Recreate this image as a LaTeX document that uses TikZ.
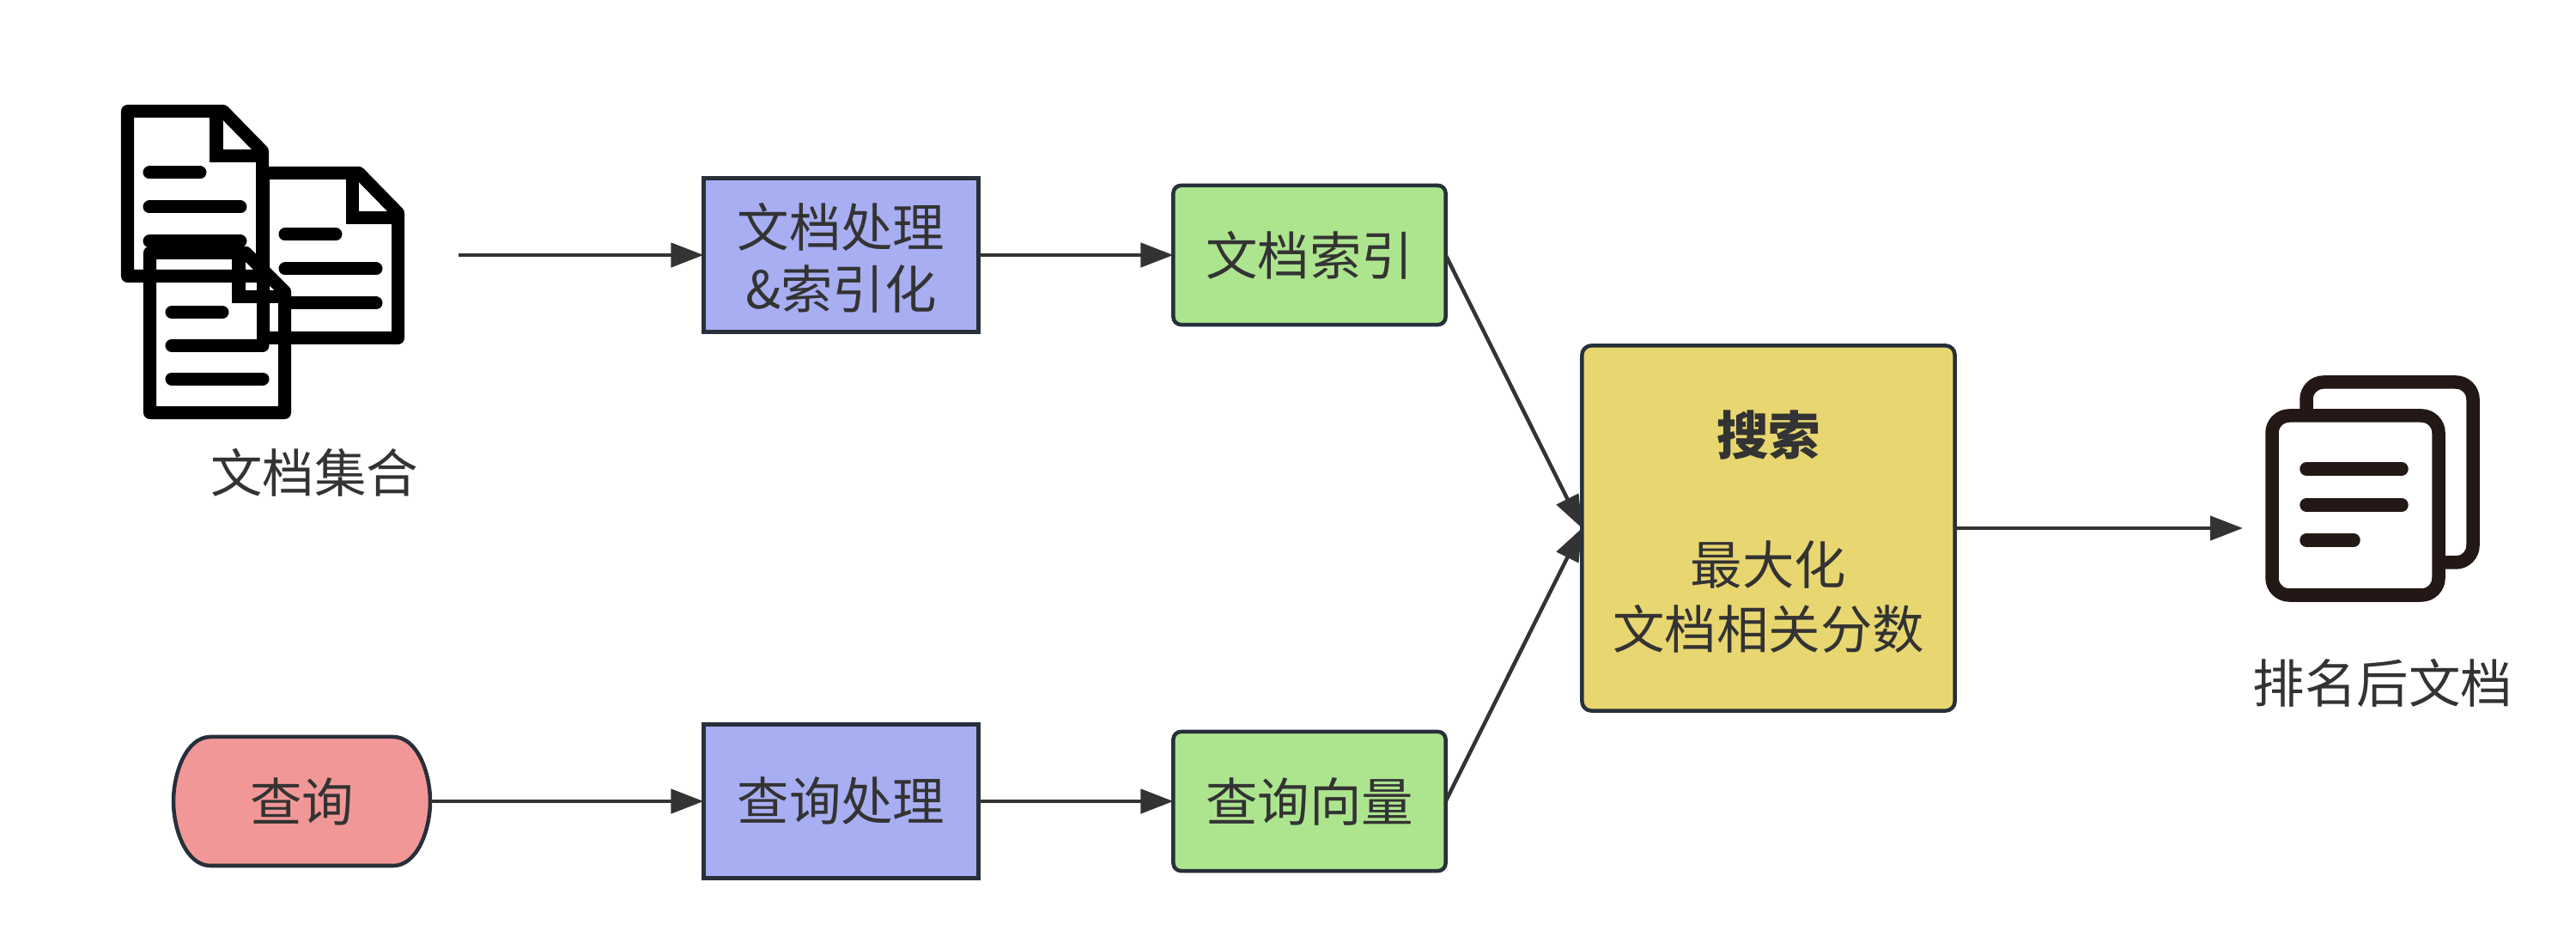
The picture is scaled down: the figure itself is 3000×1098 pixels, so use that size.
\documentclass[tikz,border=0pt]{standalone}
\usepackage{fontspec}
\setmainfont{Noto Sans CJK SC}
\usetikzlibrary{arrows.meta}
\definecolor{txt}{HTML}{333333}
\definecolor{edge}{HTML}{27303A}
\definecolor{bluefill}{HTML}{A7AEF2}
\definecolor{greenfill}{HTML}{ADE58F}
\definecolor{yellowfill}{HTML}{E8D670}
\definecolor{pinkfill}{HTML}{F29797}
\definecolor{iconbrown}{HTML}{231815}
\tikzset{
  x=0.01cm,y=-0.01cm,
  label text/.style={font=\fontsize{17.2}{21.3}\selectfont,text=txt,align=center,inner sep=0pt,outer sep=0pt},
  boxbase/.style={label text,draw=edge,line width=0.045cm},
  procbox/.style={boxbase,fill=bluefill,minimum width=3.2cm,minimum height=1.79cm},
  indexbox/.style={boxbase,fill=greenfill,rounded corners=0.09cm,minimum width=3.17cm,minimum height=1.62cm},
  searchbox/.style={boxbase,fill=yellowfill,rounded corners=0.11cm,minimum width=4.34cm,minimum height=4.25cm},
  conn/.style={draw=txt,line width=0.045cm,-{Triangle[length=0.38cm,width=0.28cm]}},
  docstroke/.style={draw=black,line width=0.15cm,line join=round,line cap=round},
  stackstroke/.style={draw=iconbrown,line width=0.155cm,rounded corners=0.2cm},
  stackline/.style={draw=iconbrown,line width=0.155cm,line cap=round},
  docicon/.pic={
    \draw[docstroke] (7.5,7.5) -- (119,7.5) -- (164.5,54) -- (164.5,199.5) -- (7.5,199.5) -- cycle;
    \draw[docstroke,line cap=butt,line join=miter] (111,7.5) -- (111,60) -- (164.5,60);
    \draw[docstroke] (33,79) -- (92,79);
    \draw[docstroke] (33,119) -- (139,119);
    \draw[docstroke] (33,159) -- (139,159);
  }
}
\begin{document}
\begin{tikzpicture}
\useasboundingbox[fill=white] (0,0) rectangle (3000,1098);
% document collection icon
\pic at (141,122) {docicon};
\pic at (299,194) {docicon};
\pic[yscale=0.97] at (167,287) {docicon};
\node[label text] (doclabel) at (366,550) {文档集合};
\coordinate (docsout) at (534,297);
% boxes
\node[procbox,font=\fontsize{17.2}{20.3}\selectfont] (docproc) at (979.5,297) {\rule{0pt}{16.5pt}文档处理\\\&索引化};
\node[indexbox] (docindex) at (1525,297) {文档索引};
\node[searchbox] (search) at (2059.5,615) {\rule{0pt}{17pt}\textbf{搜索}\\[0.5pt]~\\最大化\\文档相关分数};
\draw[draw=edge,fill=pinkfill,line width=0.045cm]
  (245,858) -- (458,858) .. controls (486,858) and (501,900) .. (501,933)
  .. controls (501,966) and (486,1008) .. (458,1008) -- (245,1008)
  .. controls (217,1008) and (202,966) .. (202,933)
  .. controls (202,900) and (217,858) .. (245,858) -- cycle;
\node[label text,minimum width=2.99cm,minimum height=1.5cm] (query) at (351.5,933) {查询};
\node[procbox] (queryproc) at (979.5,933) {查询处理};
\node[indexbox] (queryvec) at (1525,933) {查询向量};
% ranked documents icon
\draw[stackstroke] (2686,445) rectangle (2880,655);
\draw[stackstroke,fill=white] (2646,484) rectangle (2840,693);
\draw[stackline] (2686,546) -- (2797,546);
\draw[stackline] (2686,588) -- (2797,588);
\draw[stackline] (2686,629) -- (2741,629);
\node[label text] (ranklabel) at (2775,795) {排名后文档};
\coordinate (rankin) at (2612,615);
% connectors
\draw[conn] (docsout) -- (docproc.west);
\draw[conn] (docproc.east) -- (docindex.west);
\draw[conn] (docindex.east) -- (search.west);
\draw[conn] (query.east) -- (queryproc.west);
\draw[conn] (queryproc.east) -- (queryvec.west);
\draw[conn] (queryvec.east) -- (search.west);
\draw[conn] (search.east) -- (rankin);
\end{tikzpicture}
\end{document}
